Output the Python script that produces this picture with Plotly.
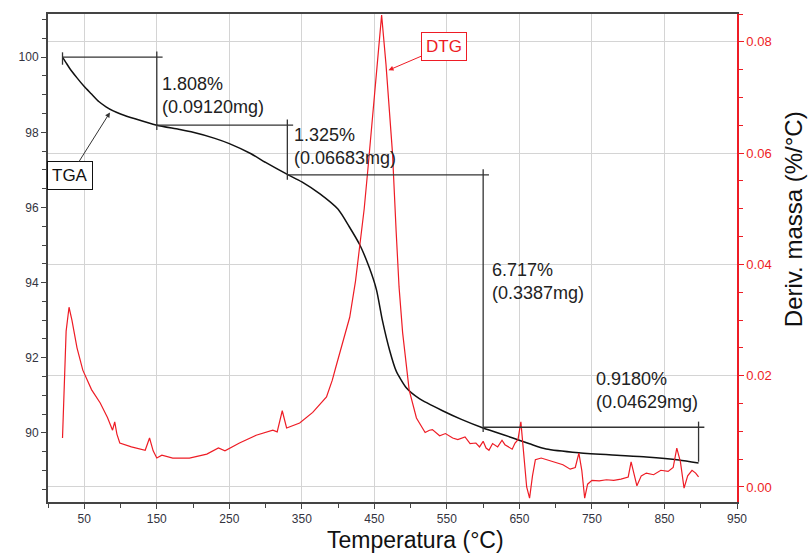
import plotly.graph_objects as go
import numpy as np

# ---------------- data ----------------
tga_temp = [20, 25, 30, 40, 50, 60, 70, 80, 90, 100, 120, 150, 180, 200, 230, 250, 280, 300,
            330, 350, 375, 400, 415, 430, 443, 453, 461, 471, 480, 494, 512, 544, 570, 600,
            640, 664, 687, 732, 778, 825, 870, 897]
tga_mass = [100.0, 99.85, 99.7, 99.45, 99.22, 99.02, 98.82, 98.68, 98.57, 98.49, 98.36, 98.19,
            98.08, 98.0, 97.84, 97.7, 97.43, 97.2, 96.88, 96.68, 96.36, 95.95, 95.5, 95.0,
            94.4, 93.8, 93.0, 92.2, 91.65, 91.2, 90.91, 90.59, 90.36, 90.13, 89.87, 89.71,
            89.57, 89.47, 89.41, 89.36, 89.28, 89.2]

dtg_temp = [20, 22, 25, 29, 33, 40, 48, 60, 72, 82, 89, 92, 95, 99, 115, 134, 140, 145, 150,
            157, 172, 195, 219, 235, 244, 264, 287, 310, 316, 323, 329, 347, 365, 384, 392,
            397, 406, 416, 424, 430, 436, 441, 450, 455, 460, 466, 470, 475, 480, 484, 489,
            498, 508, 515, 520, 526, 530, 540, 548, 558, 565, 575, 582, 590, 595, 600, 604,
            608, 613, 620, 626, 630, 635, 640, 644, 648, 652, 656, 660, 664, 668, 672, 680,
            690, 700, 710, 720, 727, 732, 736, 740, 744, 750, 760, 770, 780, 790, 800, 804,
            808, 812, 818, 825, 835, 845, 855, 862, 867, 872, 877, 882, 888, 893, 897]
dtg_val = [0.0088, 0.018, 0.028, 0.0323, 0.0300, 0.0250, 0.0210, 0.0175, 0.0151, 0.0125,
           0.0102, 0.0117, 0.0095, 0.0079, 0.0072, 0.0066, 0.0088, 0.0065, 0.0052, 0.0057,
           0.0052, 0.0052, 0.0059, 0.0070, 0.0065, 0.0079, 0.0093, 0.0102, 0.0099, 0.0137,
           0.0106, 0.0115, 0.0134, 0.0162, 0.0192, 0.0216, 0.0259, 0.0305, 0.0370, 0.0431,
           0.0500, 0.0570, 0.0695, 0.0770, 0.0848, 0.0760, 0.0690, 0.0600, 0.0460, 0.0360,
           0.0277, 0.0174, 0.0124, 0.0110, 0.0098, 0.0102, 0.0103, 0.0092, 0.0096, 0.0088,
           0.0085, 0.0090, 0.0078, 0.0079, 0.0072, 0.0082, 0.0070, 0.0066, 0.0078, 0.0072,
           0.0084, 0.0076, 0.0072, 0.0068, 0.0079, 0.0085, 0.0117, 0.0060, 0.0000, -0.0020,
           0.0020, 0.0049, 0.0052, 0.0048, 0.0044, 0.0040, 0.0032, 0.0035, 0.0061, 0.0030,
           -0.0020, 0.0005, 0.0012, 0.0011, 0.0013, 0.0012, 0.0014, 0.0018, 0.0045, 0.0025,
           0.0002, 0.0020, 0.0025, 0.0022, 0.0030, 0.0028, 0.0035, 0.0070, 0.0045, -0.0002,
           0.0020, 0.0030, 0.0025, 0.0018]

step_temps = [20, 150, 330, 600, 897]
loss_pct = [1.808, 1.325, 6.717, 0.9180]
loss_pct_txt = ["1.808%", "1.325%", "6.717%", "0.9180%"]
loss_mg_txt = ["(0.09120mg)", "(0.06683mg)", "(0.3387mg)", "(0.04629mg)"]
label_pos = [(154, 98.99), (336, 97.62), (610, 94.03), (753, 91.12)]

x_ticks = [50, 150, 250, 350, 450, 550, 650, 750, 850, 950]
y1_ticks = [90, 92, 94, 96, 98, 100]
y2_ticks = [0.00, 0.02, 0.04, 0.06, 0.08]

FONT = "Liberation Sans, Arial, sans-serif"
RED = "#ee1c25"
LINE = "#333333"

levels = [100.0] + list(100.0 - np.cumsum(loss_pct))

fig = go.Figure()
fig.add_trace(go.Scatter(x=tga_temp, y=tga_mass, mode="lines",
                         line=dict(color="#111111", width=1.5, shape="spline", smoothing=0.6),
                         yaxis="y", showlegend=False))
fig.add_trace(go.Scatter(x=dtg_temp, y=dtg_val, mode="lines",
                         line=dict(color=RED, width=1.2),
                         yaxis="y2", showlegend=False))

shapes = []
shapes.append(dict(type="line", xref="x", yref="y", x0=step_temps[0], x1=step_temps[0],
                   y0=levels[0] + 0.13, y1=levels[0] - 0.2, line=dict(color=LINE, width=1.3)))
for i in range(4):
    t0, t1 = step_temps[i], step_temps[i + 1]
    shapes.append(dict(type="line", xref="x", yref="y", x0=t0, x1=t1 + 8,
                       y0=levels[i], y1=levels[i], line=dict(color=LINE, width=1.3)))
    bottom = levels[i + 1] - 0.13 if i < 3 else levels[i + 1]
    shapes.append(dict(type="line", xref="x", yref="y", x0=t1, x1=t1,
                       y0=levels[i] + 0.15, y1=bottom, line=dict(color=LINE, width=1.3)))

annotations = []
for (tx, ty), p, m in zip(label_pos, loss_pct_txt, loss_mg_txt):
    annotations.append(dict(x=tx, y=ty, xref="x", yref="y", text=p + "<br>" + m,
                            showarrow=False, xanchor="left", yanchor="middle", align="left",
                            font=dict(family=FONT, size=18, color="#222222")))

annotations.append(dict(x=85.4, y=98.53, xref="x", yref="y", ax=30.3, ay=96.84,
                        axref="x", ayref="y", text="TGA", showarrow=True,
                        arrowhead=2, arrowsize=1, arrowwidth=1, arrowcolor="#333333",
                        font=dict(family=FONT, size=17, color="#111111"),
                        bordercolor="#111111", borderwidth=1, borderpad=4, bgcolor="white"))
annotations.append(dict(x=469.5, y=0.0749, xref="x", yref="y2", ax=546.6, ay=0.0792,
                        axref="x", ayref="y2", text="DTG", showarrow=True,
                        arrowhead=2, arrowsize=1, arrowwidth=1, arrowcolor=RED,
                        font=dict(family=FONT, size=17, color=RED),
                        bordercolor=RED, borderwidth=1, borderpad=4, bgcolor="white"))

annotations.append(dict(x=0.534, y=-0.078, xref="paper", yref="paper", text="Temperatura (°C)",
                        showarrow=False, xanchor="center", yanchor="middle",
                        font=dict(family=FONT, size=23, color="#111111")))
annotations.append(dict(x=1.083, y=0.58, xref="paper", yref="paper", text="Deriv. massa (%/°C)",
                        showarrow=False, xanchor="center", yanchor="middle", textangle=-90,
                        font=dict(family=FONT, size=24, color="#111111")))

fig.update_layout(
    width=811, height=556,
    margin=dict(l=48, r=74, t=14, b=54),
    paper_bgcolor="white", plot_bgcolor="white",
    shapes=shapes, annotations=annotations,
    xaxis=dict(range=[0, 950], tickvals=x_ticks, showgrid=True, gridcolor="#d4d4d4", gridwidth=1,
               zeroline=False, showline=True, linecolor="#444444", linewidth=2, mirror=True,
               ticks="outside", ticklen=5, tickcolor="#444444",
               minor=dict(tickvals=list(range(0, 951, 50)), ticks="outside", ticklen=4,
                          tickcolor="#444444", showgrid=False),
               tickfont=dict(family=FONT, size=12, color="#333340")),
    yaxis=dict(range=[88.16, 101.15], tickvals=y1_ticks, showgrid=False, zeroline=False,
               showline=True, linecolor="#444444", linewidth=2,
               ticks="outside", ticklen=5, tickcolor="#444444",
               minor=dict(dtick=0.5, tick0=88, ticks="outside", ticklen=4, tickcolor="#444444"),
               tickfont=dict(family=FONT, size=12, color="#333340")),
    yaxis2=dict(range=[-0.0027, 0.085], overlaying="y", side="right", tickvals=y2_ticks,
                tickformat=".2f", showgrid=True, gridcolor="#d4d4d4", gridwidth=1, zeroline=False,
                showline=True, linecolor=RED, linewidth=1.5,
                ticks="outside", ticklen=5, tickcolor=RED,
                minor=dict(dtick=0.005, tick0=0, ticks="outside", ticklen=4, tickcolor=RED),
                tickfont=dict(family=FONT, size=13, color=RED)),
)

fig.write_html("out.html")
